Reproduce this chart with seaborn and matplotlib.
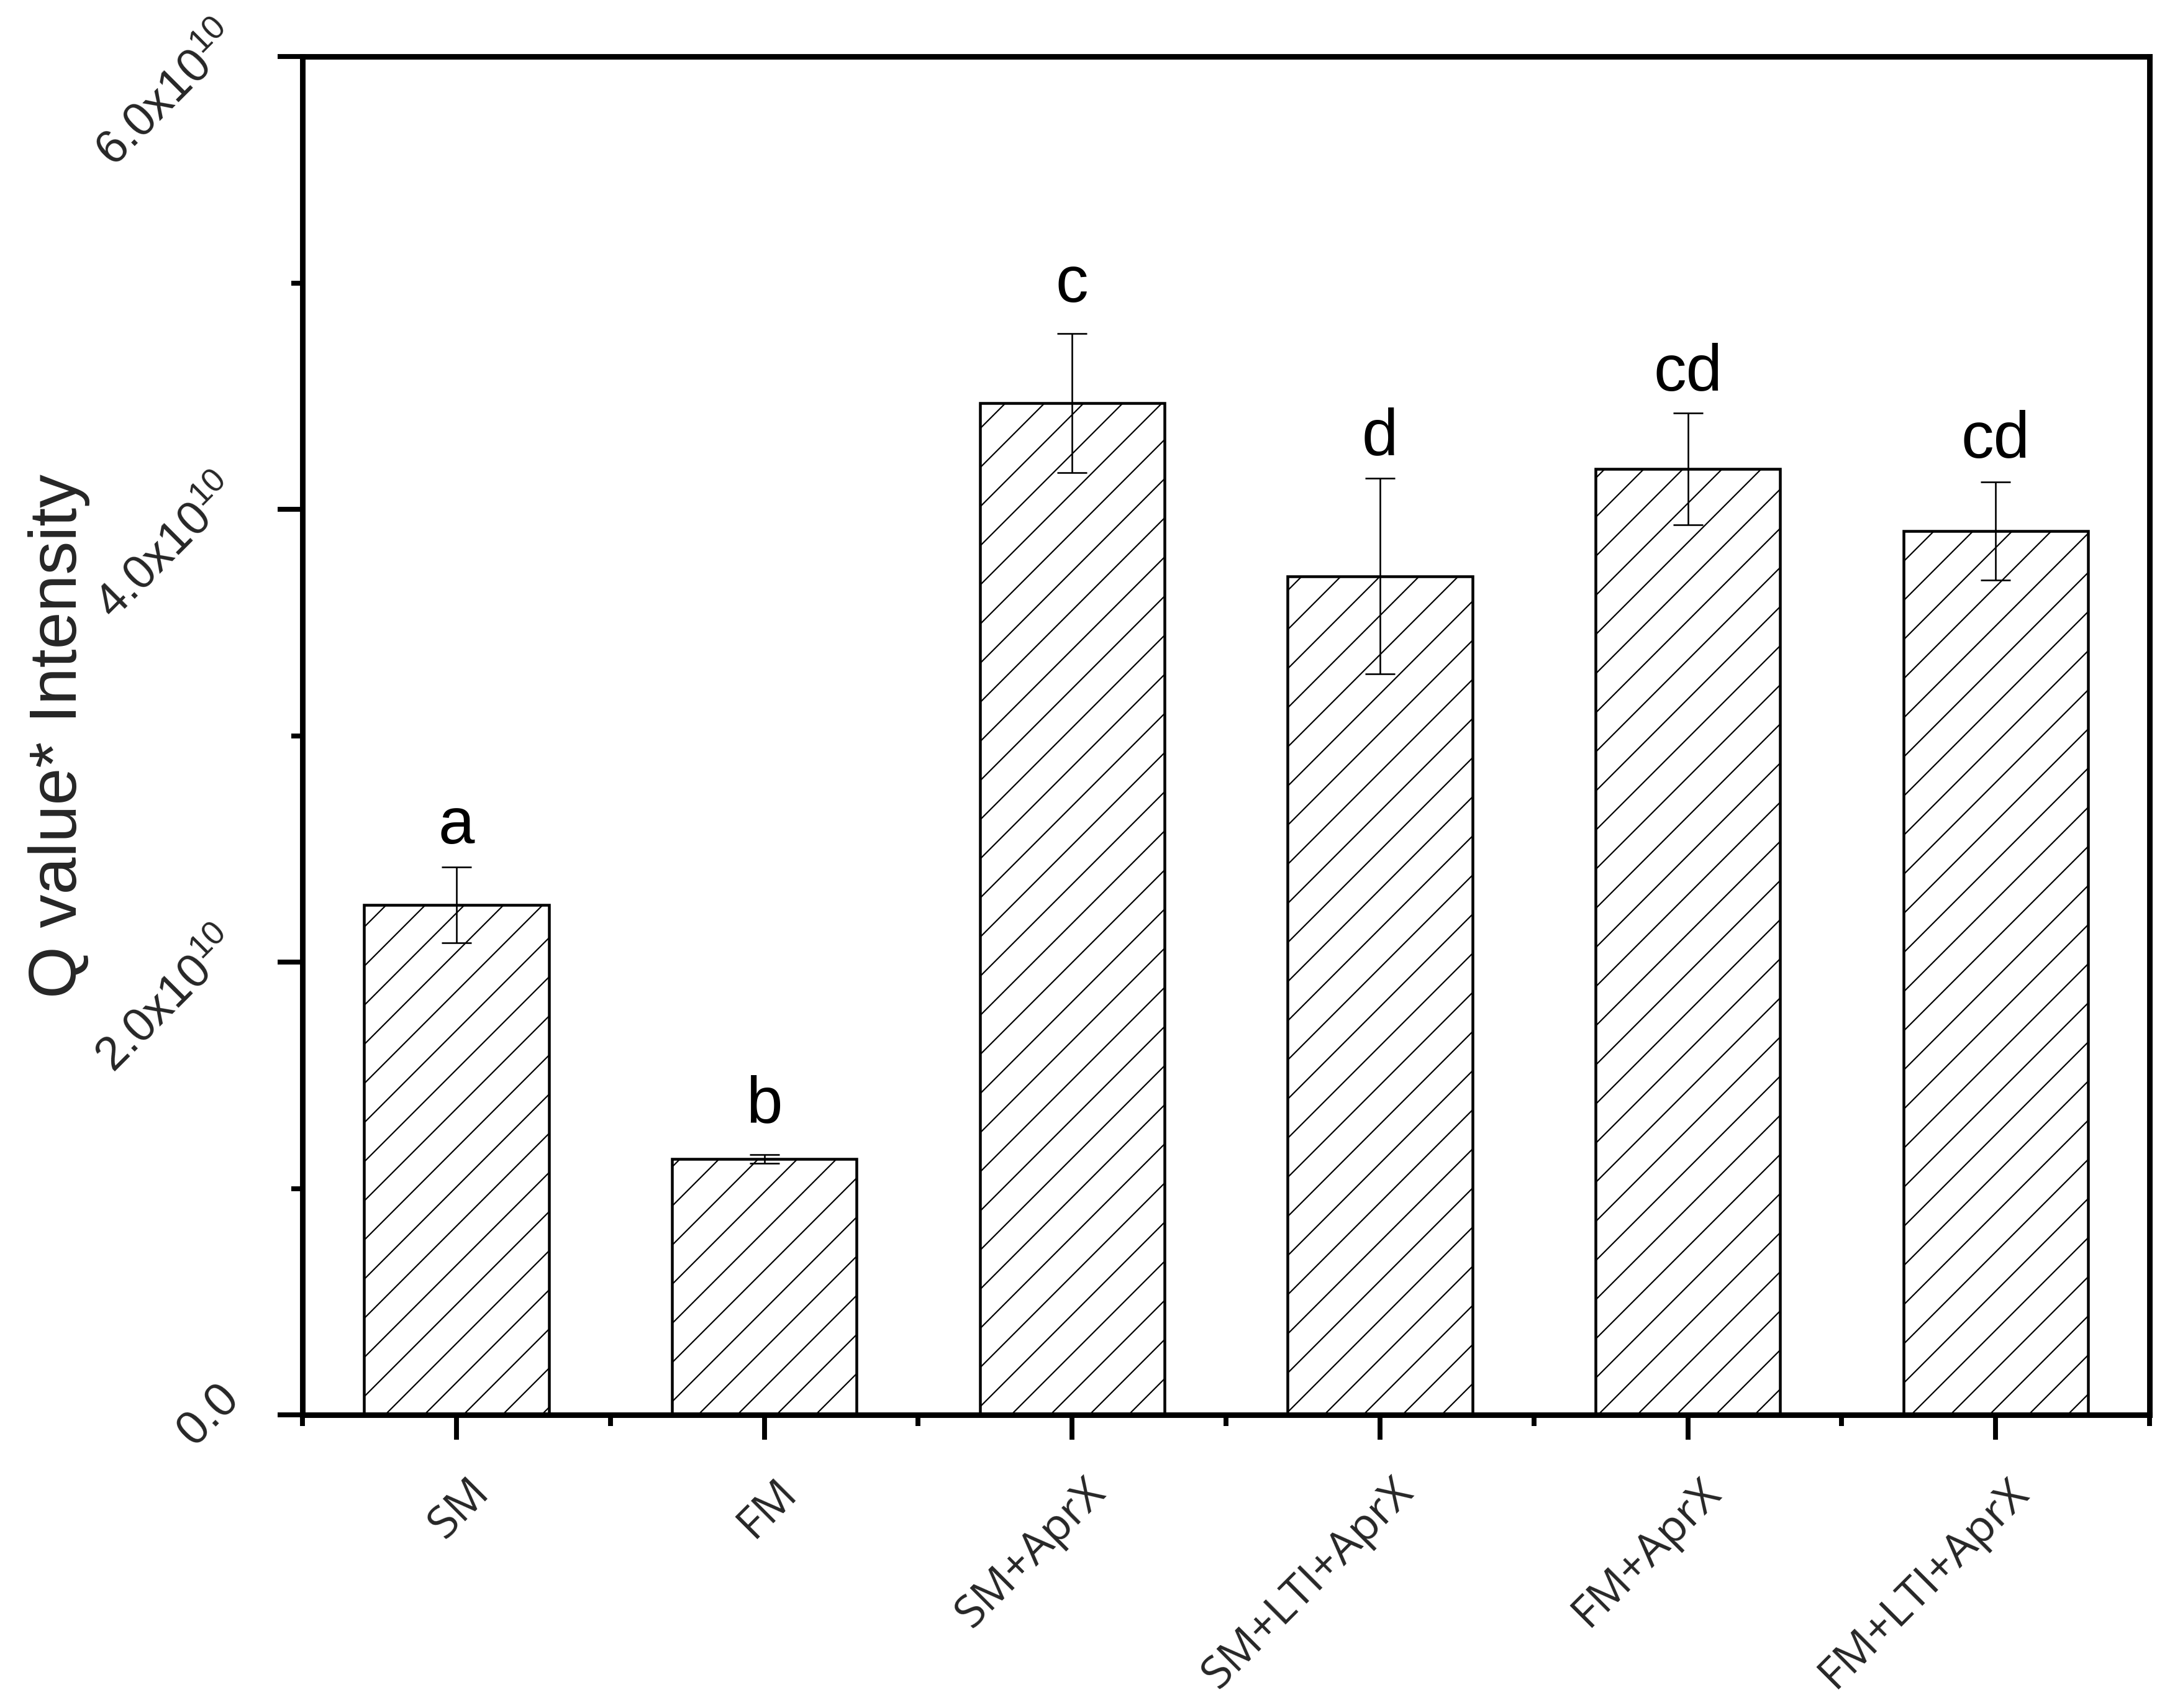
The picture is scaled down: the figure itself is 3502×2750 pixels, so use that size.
import matplotlib
matplotlib.use("Agg")
import matplotlib.pyplot as plt
import matplotlib.transforms as mtransforms
from matplotlib.ticker import FixedLocator
import seaborn as sns
import pandas as pd

# ---------------- data ----------------
categories = ["SM", "FM", "SM+AprX", "SM+LTI+AprX", "FM+AprX", "FM+LTI+AprX"]
values = [2.252e10, 1.130e10, 4.469e10, 3.705e10, 4.178e10, 3.904e10]
errors = [0.168e10, 0.020e10, 0.307e10, 0.431e10, 0.247e10, 0.216e10]
letters = ["a", "b", "c", "d", "cd", "cd"]
letter_y = [2.524e10, 1.292e10, 4.916e10, 4.241e10, 4.525e10, 4.229e10]
ytick_values = [0, 2e10, 4e10, 6e10]
ytick_minor = [1e10, 3e10, 5e10]
ytick_labels = ["0.0", r"$\mathregular{2.0x10^{10}}$",
                r"$\mathregular{4.0x10^{10}}$", r"$\mathregular{6.0x10^{10}}$"]
ylabel = "Q value* Intensity"

# ---------------- style ----------------
sns.set_style("ticks")
plt.rcParams["font.family"] = ["Liberation Sans", "DejaVu Sans"]
plt.rcParams["mathtext.fontset"] = "custom"
plt.rcParams["mathtext.rm"] = "Liberation Sans"
plt.rcParams["hatch.linewidth"] = 0.42
plt.rcParams["hatch.color"] = "black"

DPI = 378
fig = plt.figure(figsize=(3502 / DPI, 2750 / DPI), dpi=DPI)
fig.patch.set_facecolor("white")
ax = fig.add_axes([0.1391, 0.1716, 0.8492, 0.7953])

df = pd.DataFrame({"group": categories, "value": values})
sns.barplot(data=df, x="group", y="value", order=categories, color="white",
            edgecolor="black", linewidth=0.86, width=0.6, errorbar=None,
            saturation=1, ax=ax)
for p in ax.patches:
    p.set_facecolor("white")
    p.set_hatch("//")

ax.errorbar(x=list(range(len(categories))), y=values, yerr=errors, fmt="none",
            ecolor="black", elinewidth=0.5, capsize=4.5, capthick=0.5, zorder=5)

for i, (lt, ly) in enumerate(zip(letters, letter_y)):
    ax.text(i, ly, lt, ha="center", va="baseline", fontsize=20, color="black")

ax.set_xlim(-0.5, 5.5)
ax.set_ylim(0, 6e10)

for s in ax.spines.values():
    s.set_visible(True)
    s.set_linewidth(1.7)
    s.set_color("black")

ax.set_xticks(range(len(categories)))
ax.xaxis.set_minor_locator(FixedLocator([i - 0.5 for i in range(len(categories) + 1)]))
ax.set_yticks(ytick_values)
ax.yaxis.set_minor_locator(FixedLocator(ytick_minor))

ax.tick_params(axis="both", which="major", direction="out", length=7.6, width=1.5,
               color="black", top=False, right=False)
ax.tick_params(axis="both", which="minor", direction="out", length=3.4, width=1.5,
               color="black", top=False, right=False)
ax.tick_params(axis="x", which="major", pad=14.1)
ax.tick_params(axis="y", which="major", pad=14.1)

ax.set_xticklabels(categories, rotation=45, ha="right", va="center",
                   rotation_mode="anchor", fontsize=13.8,
                   family=["Open Sans", "DejaVu Sans"])
ax.set_yticklabels(ytick_labels, rotation=45, ha="right", va="center",
                   rotation_mode="anchor", fontsize=14.5)

xoff = mtransforms.ScaledTranslation(42 / DPI, 0, fig.dpi_scale_trans)
for lab in ax.get_xticklabels():
    lab.set_transform(lab.get_transform() + xoff)
yoff = mtransforms.ScaledTranslation(0, 38 / DPI, fig.dpi_scale_trans)
for lab in ax.get_yticklabels():
    lab.set_transform(lab.get_transform() + yoff)

ax.set_xlabel("")
ax.set_ylabel(ylabel, fontsize=20.5)
ax.yaxis.set_label_coords(-0.115, 0.5)

fig.savefig("out.png", dpi=DPI, facecolor="white")
